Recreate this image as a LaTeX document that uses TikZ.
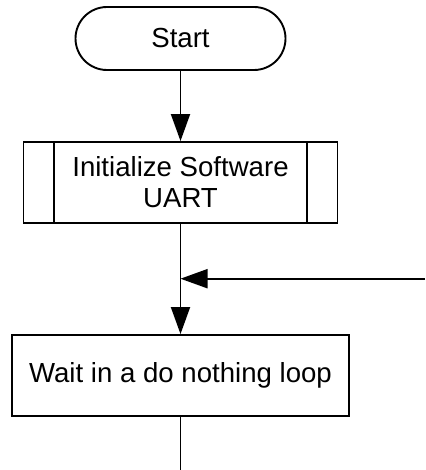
\documentclass[tikz,border=0pt]{standalone}
\usepackage{fontspec}
\setmainfont{Liberation Sans}
\usetikzlibrary{arrows.meta}

\tikzset{
  flowline/.style={line width=1.9pt, draw=black},
  flowarrow/.style={flowline, -{Triangle[length=27pt,width=19pt]}},
  labelfont/.style={font=\fontsize{27.6}{31}\selectfont, align=center, inner sep=0pt},
  terminal/.style={flowline, labelfont, rectangle, rounded corners=31.5pt,
    minimum width=210pt, minimum height=63pt},
  procbox/.style={flowline, labelfont, rectangle,
    minimum width=337pt, minimum height=81pt},
  subproc/.style={flowline, labelfont, rectangle,
    minimum width=314pt, minimum height=81pt}
}

\begin{document}
\begin{tikzpicture}[x=1pt, y=-1pt]
  \useasboundingbox (0,0) rectangle (425,470);

  % flowchart blocks
  \node[terminal] (start) at (180.5,38.5) {Start};
  \node[subproc]  (init)  at (180.5,182.5) {Initialize Software\\UART};
  \node[procbox]  (wait)  at (180.5,375.5) {Wait in a do nothing loop};

  % side bars of the predefined-process box
  \draw[flowline] ([xshift=31.5pt]init.north west) -- ([xshift=31.5pt]init.south west);
  \draw[flowline] ([xshift=-31.5pt]init.north east) -- ([xshift=-31.5pt]init.south east);

  % junction and loop-back entry
  \coordinate (join) at (180.5,278.7);
  \coordinate (loopin) at (425,278.7);
  \coordinate (exit) at (180.5,470);

  % connectors
  \draw[flowarrow] (start.south) -- (init.north);
  \draw[flowarrow] (init.south) -- (wait.north);
  \draw[flowarrow] (loopin) -- (join);
  \draw[flowline] (wait.south) -- (exit);
\end{tikzpicture}
\end{document}
